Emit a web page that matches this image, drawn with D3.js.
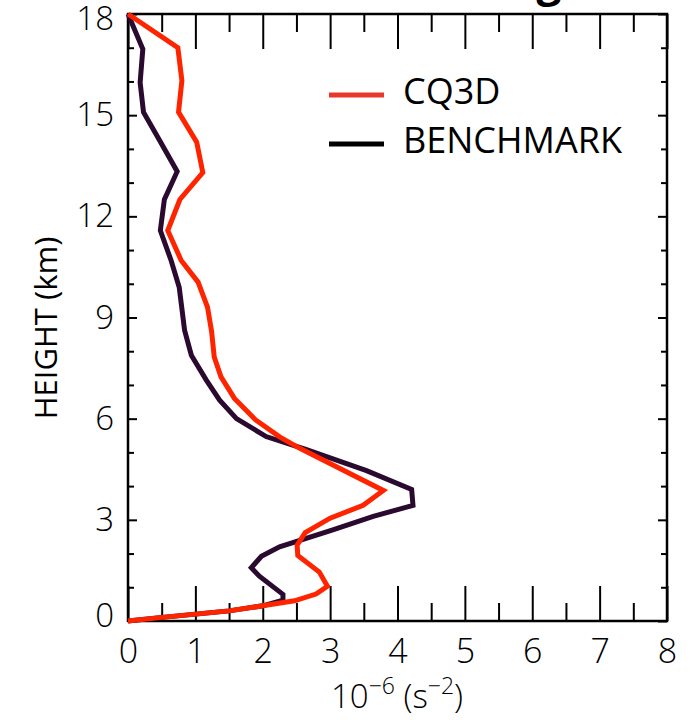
<!DOCTYPE html>
<html>
<head>
<meta charset="utf-8">
<script src="https://cdn.jsdelivr.net/npm/d3@7"></script>
<style>
  body { margin: 0; background: #fff; }
  svg text { font-family: "Open Sans", "Noto Sans", sans-serif; }
</style>
</head>
<body>
<div id="chart"></div>
<script>
// profile values (10^-6 s^-2) read at each height (km)
var cq3dValue  = [0, 0.74, 0.80, 0.75, 1.02, 1.11, 0.77, 0.59, 0.79, 1.04, 1.18, 1.24, 1.28, 1.38, 1.58, 1.89, 2.25, 2.55, 3.79, 3.49, 3.00, 2.63, 2.51, 2.52, 2.84, 2.96, 2.79, 2.47, 2.00, 1.50, 0.47, 0];
var cq3dHeight = [18, 17.0, 16.03, 15.09, 14.2, 13.3, 12.5, 11.58, 10.69, 10.05, 9.31, 8.6, 7.83, 7.24, 6.6, 5.97, 5.46, 5.12, 3.87, 3.43, 3.05, 2.62, 2.25, 1.94, 1.45, 1.03, 0.8, 0.6, 0.45, 0.3, 0.1, 0];

var benchValue  = [0, 0.22, 0.18, 0.23, 0.47, 0.73, 0.54, 0.48, 0.64, 0.76, 0.84, 0.94, 1.16, 1.36, 1.61, 2.05, 2.65, 3.54, 4.21, 4.23, 3.64, 3.04, 2.25, 1.98, 1.83, 1.95, 2.30, 2.30, 2.00, 1.50, 0.47, 0];
var benchHeight = [18, 16.96, 15.97, 15.09, 14.25, 13.33, 12.5, 11.58, 10.69, 9.9, 8.62, 7.88, 7.15, 6.55, 6.0, 5.47, 5.08, 4.46, 3.90, 3.43, 3.10, 2.70, 2.20, 1.92, 1.58, 1.33, 0.79, 0.62, 0.45, 0.3, 0.1, 0];

var xTicks = [0, 1, 2, 3, 4, 5, 6, 7, 8];
var xMinor = [0.5, 1.5, 2.5, 3.5, 4.5, 5.5, 6.5, 7.5];
var yTicks = [0, 3, 6, 9, 12, 15, 18];
var yMinor = [1, 2, 4, 5, 7, 8, 10, 11, 13, 14, 16, 17];

var seriesNames = ['CQ3D', 'BENCHMARK'];

var width = 690, height = 724;
var plotL = 128, plotR = 667, plotT = 14, plotB = 621;

var svg = d3.select('#chart').append('svg')
    .attr('width', width)
    .attr('height', height);

var x = d3.scaleLinear().domain([0, 8]).range([plotL, plotR]);
var y = d3.scaleLinear().domain([0, 18]).range([plotB, plotT]);

// cut-off title glyph at the very top
svg.append('text')
    .attr('x', 549)
    .attr('y', -4)
    .attr('text-anchor', 'middle')
    .attr('font-size', 44)
    .attr('font-weight', 'bold')
    .text('g');

function styleAxis(g) {
    g.select('.domain').remove();
    g.selectAll('line').attr('stroke', '#000').attr('stroke-width', 2);
}

// x ticks (bottom and top, pointing inward)
svg.append('g')
    .attr('transform', `translate(0,${plotB})`)
    .call(d3.axisBottom(x).tickValues(xTicks).tickSize(-35).tickPadding(18).tickFormat(d3.format('d')))
    .call(styleAxis)
    .call(g => g.selectAll('text').attr('font-size', 34).attr('font-weight', 300).attr('fill', '#000').attr('dy', '0.72em'));
svg.append('g')
    .attr('transform', `translate(0,${plotB})`)
    .call(d3.axisBottom(x).tickValues(xMinor).tickSize(-18).tickFormat(''))
    .call(styleAxis);
svg.append('g')
    .attr('transform', `translate(0,${plotT})`)
    .call(d3.axisTop(x).tickValues(xTicks).tickSize(-35).tickFormat(''))
    .call(styleAxis);
svg.append('g')
    .attr('transform', `translate(0,${plotT})`)
    .call(d3.axisTop(x).tickValues(xMinor).tickSize(-18).tickFormat(''))
    .call(styleAxis);

// y ticks (left and right, pointing inward)
svg.append('g')
    .attr('transform', `translate(${plotL},0)`)
    .call(d3.axisLeft(y).tickValues(yTicks).tickSize(-9).tickPadding(14).tickFormat(d3.format('d')))
    .call(styleAxis)
    .call(g => g.selectAll('text')
        .attr('font-size', 33).attr('font-weight', 300).attr('fill', '#000')
        .attr('transform', d => d === 18 ? 'translate(0,5)' : d === 0 ? 'translate(0,-5)' : null));
svg.append('g')
    .attr('transform', `translate(${plotL},0)`)
    .call(d3.axisLeft(y).tickValues(yMinor).tickSize(-6).tickFormat(''))
    .call(styleAxis);
svg.append('g')
    .attr('transform', `translate(${plotR},0)`)
    .call(d3.axisRight(y).tickValues(yTicks).tickSize(-9).tickFormat(''))
    .call(styleAxis);
svg.append('g')
    .attr('transform', `translate(${plotR},0)`)
    .call(d3.axisRight(y).tickValues(yMinor).tickSize(-6).tickFormat(''))
    .call(styleAxis);

// frame
svg.append('rect')
    .attr('x', plotL).attr('y', plotT)
    .attr('width', plotR - plotL).attr('height', plotB - plotT)
    .attr('fill', 'none').attr('stroke', '#000').attr('stroke-width', 2.5);

// profiles
var line = d3.line()
    .x(d => x(d[0]))
    .y(d => y(d[1]));

svg.append('path')
    .datum(d3.zip(benchValue, benchHeight))
    .attr('d', line)
    .attr('fill', 'none')
    .attr('stroke', '#2b0a30')
    .attr('stroke-width', 5);

svg.append('path')
    .datum(d3.zip(cq3dValue, cq3dHeight))
    .attr('d', line)
    .attr('fill', 'none')
    .attr('stroke', '#ff2400')
    .attr('stroke-width', 5);

// legend
var legendColors = ['#e8382a', '#000'];
seriesNames.forEach((name, i) => {
    var ly = 95 + 49 * i;
    svg.append('line')
        .attr('x1', 329).attr('x2', 384)
        .attr('y1', ly).attr('y2', ly)
        .attr('stroke', legendColors[i])
        .attr('stroke-width', 5);
    svg.append('text')
        .attr('x', 403).attr('y', ly + 9)
        .attr('font-size', 36)
        .attr('fill', '#000')
        .text(name);
});

// axis titles
svg.append('text')
    .attr('transform', 'translate(57,328) rotate(-90)')
    .attr('text-anchor', 'middle')
    .attr('font-size', 31)
    .attr('font-weight', 500)
    .text('HEIGHT (km)');

var xLabel = svg.append('text')
    .attr('x', 397).attr('y', 708)
    .attr('text-anchor', 'middle')
    .attr('font-size', 33)
    .attr('font-weight', 300);
xLabel.append('tspan').text('10');
xLabel.append('tspan').attr('dy', -14).attr('font-size', 23).text('\u22126');
xLabel.append('tspan').attr('dy', 14).text(' (s');
xLabel.append('tspan').attr('dy', -14).attr('font-size', 23).text('\u22122');
xLabel.append('tspan').attr('dy', 14).text(')');
</script>
</body>
</html>
